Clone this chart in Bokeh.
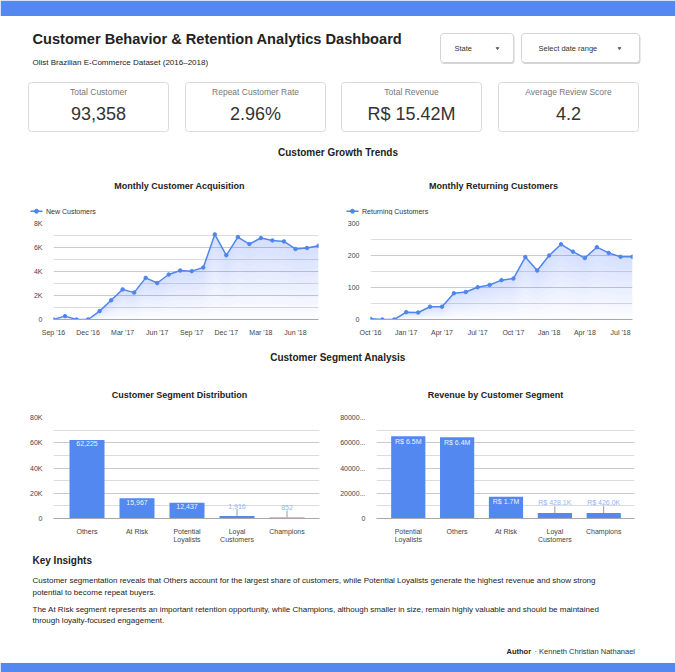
from bokeh.plotting import figure
from bokeh.models import Range1d, FixedTicker, ColumnDataSource
from bokeh.layouts import column, row
from bokeh.core.properties import value
from bokeh.embed import file_html
from bokeh.resources import INLINE

# ---------------- data ----------------
kpi_labels = ["Total Customer", "Repeat Customer Rate", "Total Revenue", "Average Review Score"]
kpi_values = ["93,358", "2.96%", "R$ 15.42M", "4.2"]

# monthly new customers, Sep 2016 .. Aug 2018
new_customers = [5, 280, 0, 1, 700, 1600, 2510, 2240, 3470, 3040, 3750, 4080,
                 4030, 4330, 7090, 5350, 6870, 6290, 6790, 6590, 6510, 5880, 5960, 6150]
acq_tick_labels = ["Sep '16", "Dec '16", "Mar '17", "Jun '17", "Sep '17", "Dec '17", "Mar '18", "Jun '18"]

# monthly returning customers, Oct 2016 .. Aug 2018
returning_customers = [2, 0, 0, 23, 22, 40, 40, 82, 86, 101, 108, 123,
                       128, 195, 153, 200, 235, 212, 192, 226, 208, 196, 196]
ret_tick_labels = ["Oct '16", "Jan '17", "Apr '17", "Jul '17", "Oct '17", "Jan '18", "Apr '18", "Jul '18"]

seg_names = ["Others", "At Risk", "Potential\nLoyalists", "Loyal\nCustomers", "Champions"]
seg_counts = [62225, 15967, 12437, 1916, 852]

rev_names = ["Potential\nLoyalists", "Others", "At Risk", "Loyal\nCustomers", "Champions"]
rev_values = [6.52e6, 6.44e6, 1.72e6, 428.1e3, 426.0e3]
rev_ticks = [0, 2000000, 4000000, 6000000, 8000000]
rev_tick_labels = ["0", "20000...", "40000...", "60000...", "80000..."]

insight_lines = [
    "Customer segmentation reveals that Others account for the largest share of customers, while Potential Loyalists generate the highest revenue and show strong",
    "potential to become repeat buyers.",
    "The At Risk segment represents an important retention opportunity, while Champions, although smaller in size, remain highly valuable and should be maintained",
    "through loyalty-focused engagement.",
]

BLUE = "#5288f0"
LINE_BLUE = "#4f86ec"
FONT = value("Liberation Sans")
DARK = "#222222"
W = 675


def canvas(w, h):
    p = figure(width=w, height=h, x_range=Range1d(0, w), y_range=Range1d(h, 0),
               x_axis_type=None, y_axis_type=None, toolbar_location=None,
               output_backend="svg", min_border=0, outline_line_color=None,
               background_fill_color="white", border_fill_color="white")
    return p


def txt(p, x, y, s, size, color=DARK, bold=False, align="left", baseline="middle"):
    p.text(x=[x], y=[y], text=[s], text_font=FONT, text_font_size=size,
           text_font_style="bold" if bold else "normal", text_color=color,
           text_align=align, text_baseline=baseline)


# ---------------- header ----------------
head = canvas(W, 215)
head.quad(left=[0], right=[W], top=[0], bottom=[15.5], color=BLUE, line_color=None)
txt(head, 32, 38.5, "Customer Behavior & Retention Analytics Dashboard", "14.6px", bold=True)
txt(head, 32, 62, "Olist Brazilian E-Commerce Dataset (2016\u20132018)", "8px")

# filter controls
drop_left = [440, 521]
drop_right = [513, 639]
drop_text = ["State", "Select date range"]
drop_text_x = [454, 538]
drop_arrow_x = [497, 619]
head.quad(left=[l + 0.5 for l in drop_left], right=[r + 1 for r in drop_right],
          top=[34.5, 34.5], bottom=[63.5, 63.5], color="#b8b8b8", alpha=0.6,
          line_color=None, border_radius=3)
head.quad(left=drop_left, right=drop_right, top=[33, 33], bottom=[62, 62],
          fill_color="white", line_color="#d4d4d4", border_radius=3)
head.text(x=drop_text_x, y=[47.5, 47.5], text=drop_text, text_font=FONT,
          text_font_size="7.5px", text_color="#333333", text_baseline="middle")
head.scatter(x=drop_arrow_x, y=[47.8, 47.8], marker="inverted_triangle", size=2.5,
             color="#666666")

# KPI cards
card_left = [28, 185, 341, 498]
card_right = [168, 325, 481, 638]
card_mid = [(a + b) / 2 for a, b in zip(card_left, card_right)]
head.quad(left=card_left, right=card_right, top=[82] * 4, bottom=[131] * 4,
          fill_color="white", line_color="#dadada", border_radius=3)
head.text(x=card_mid, y=[91] * 4, text=kpi_labels, text_font=FONT, text_font_size="8.5px",
          text_color="#777777", text_align="center", text_baseline="middle")
head.text(x=card_mid, y=[113] * 4, text=kpi_values, text_font=FONT, text_font_size="18px",
          text_color="#333333", text_align="center", text_baseline="middle")

txt(head, 337.5, 152, "Customer Growth Trends", "10px", bold=True, align="center")
txt(head, 179, 185, "Monthly Customer Acquisition", "9px", bold=True, align="center")
txt(head, 493, 185, "Monthly Returning Customers", "9px", bold=True, align="center")

# legends
for lx, label in [(30, "New Customers"), (346, "Returning Customers")]:
    head.line(x=[lx, lx + 12], y=[210.7, 210.7], line_color=LINE_BLUE, line_width=1.5)
    head.scatter(x=[lx + 6], y=[210.7], size=4, color=LINE_BLUE)
    txt(head, lx + 15.5, 210.7, label, "7px", color="#333333")


def style_axes(p):
    for ax in p.axis:
        ax.major_tick_line_color = None
        ax.minor_tick_line_color = None
        ax.major_label_text_font = "Liberation Sans"
        ax.major_label_text_font_size = "7px"
        ax.major_label_text_color = "#444444"
    p.yaxis.axis_line_color = None
    p.xaxis.axis_line_color = "#a8a8a8"
    p.xaxis.axis_line_width = 1.2
    p.xgrid.visible = False
    p.ygrid.grid_line_color = "#cacaca"
    p.ygrid.minor_grid_line_color = "#dcdcdc"


def line_chart(vals, tick_labels, ymax, ystep, ylab, w, b_left, b_right):
    n = len(vals)
    p = figure(width=w, height=125, x_range=Range1d(0, n - 1), y_range=Range1d(0, ymax),
               toolbar_location=None, output_backend="svg", outline_line_color=None,
               min_border_left=b_left, min_border_right=b_right,
               min_border_top=8, min_border_bottom=21)
    xs = list(range(n))
    # soft fill under the line, denser toward the line itself
    layers = 10
    for k in range(1, layers + 1):
        p.varea(x=xs, y1=[v * (1 - k / layers) for v in vals], y2=vals,
                fill_color=LINE_BLUE, fill_alpha=0.022)
    p.line(xs, vals, line_color=LINE_BLUE, line_width=1.5)
    p.scatter(xs, vals, size=3.5, color=LINE_BLUE)
    yt = [ystep * i for i in range(len(ylab))]
    p.yaxis.ticker = FixedTicker(ticks=yt, minor_ticks=[t + ystep / 2 for t in yt[:-1]])
    p.yaxis.major_label_overrides = dict(zip(yt, ylab))
    xt = list(range(0, n, 3))
    p.xaxis.ticker = FixedTicker(ticks=xt)
    p.xaxis.major_label_overrides = dict(zip(xt, tick_labels))
    p.xaxis.major_label_standoff = 3
    p.yaxis.major_label_standoff = 5
    style_axes(p)
    return p


acq = line_chart(new_customers, acq_tick_labels, 8000, 2000,
                 ["0", "2K", "4K", "6K", "8K"], 337, 53, 19)
ret = line_chart(returning_customers, ret_tick_labels, 300, 100,
                 ["0", "100", "200", "300"], 338, 33, 43)

# ---------------- section 2 heading ----------------
mid = canvas(W, 70)
txt(mid, 337.5, 17, "Customer Segment Analysis", "10px", bold=True, align="center")
txt(mid, 179, 54, "Customer Segment Distribution", "9px", bold=True, align="center")
txt(mid, 495, 54, "Revenue by Customer Segment", "9px", bold=True, align="center")


def bar_chart(names, vals, labels, ymax, yticks, ylabels, w, b_left, b_right, x0, x1):
    frame_h = 102
    p = figure(width=w, height=135, x_range=Range1d(x0, x1), y_range=Range1d(0, ymax),
               toolbar_location=None, output_backend="svg", outline_line_color=None,
               min_border_left=b_left, min_border_right=b_right,
               min_border_top=7, min_border_bottom=26)
    xs = list(range(len(vals)))
    p.vbar(x=xs, top=vals, width=0.7, fill_color=BLUE, line_color=None)
    inside = [v / ymax > 0.1 for v in vals]
    src_in = ColumnDataSource(dict(
        x=[x for x, i in zip(xs, inside) if i],
        y=[v for v, i in zip(vals, inside) if i],
        t=[l for l, i in zip(labels, inside) if i]))
    p.text(x="x", y="y", text="t", source=src_in, text_font=FONT, text_font_size="7px",
           text_color="white", text_alpha=0.92, text_align="center", text_baseline="top",
           y_offset=1.5)
    stem = 7 * ymax / frame_h
    ox = [x for x, i in zip(xs, inside) if not i]
    oy = [v for v, i in zip(vals, inside) if not i]
    ot = [l for l, i in zip(labels, inside) if not i]
    p.segment(x0=ox, y0=oy, x1=ox, y1=[v + stem for v in oy], line_color="#9a9a9a",
              line_width=1)
    p.text(x=ox, y=[v + stem for v in oy], text=ot, text_font=FONT, text_font_size="7px",
           text_color="#94b3f6", text_align="center", text_baseline="bottom", y_offset=-0.5)
    p.yaxis.ticker = FixedTicker(ticks=yticks,
                                 minor_ticks=[t + (yticks[1] - yticks[0]) / 2 for t in yticks[:-1]])
    p.yaxis.major_label_overrides = dict(zip(yticks, ylabels))
    p.xaxis.ticker = FixedTicker(ticks=xs)
    p.xaxis.major_label_overrides = dict(zip(xs, names))
    p.xaxis.major_label_standoff = 3
    p.yaxis.major_label_standoff = 5
    style_axes(p)
    return p


seg_labels = [f"{v:,}" for v in seg_counts]
rev_labels = [f"R$ {v / 1e6:.1f}M" if v >= 1e6 else f"R$ {v / 1e3:.1f}K" for v in rev_values]

seg = bar_chart(seg_names, seg_counts, seg_labels, 80000,
                [0, 20000, 40000, 60000, 80000], ["0", "20K", "40K", "60K", "80K"],
                337, 53, 18, -0.67, 4.65)
rev = bar_chart(rev_names, rev_values, rev_labels, 8000000, rev_ticks, rev_tick_labels,
                338, 33, 41, -0.65, 4.63)

# ---------------- insights & footer ----------------
foot = canvas(W, 127)
txt(foot, 32, 15, "Key Insights", "10px", bold=True)
foot.text(x=[32] * 4, y=[35, 47, 64, 75], text=insight_lines, text_font=FONT,
          text_font_size="8px", text_color="#222222", text_baseline="middle")
txt(foot, 506, 106, "Author", "7.5px", bold=True)
txt(foot, 534, 106, "\u00b7 Kenneth Christian Nathanael", "7.5px", color="#333333")
foot.quad(left=[0], right=[W], top=[117.5], bottom=[127], color=BLUE, line_color=None)

layout = column(head, row(acq, ret), mid, row(seg, rev), foot)

open("out.html", "w").write(file_html(layout, INLINE))
